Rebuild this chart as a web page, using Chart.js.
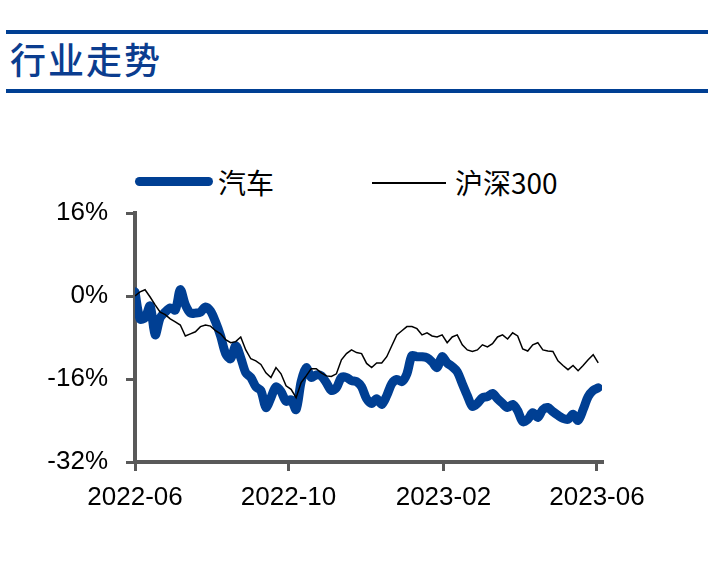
<!DOCTYPE html>
<html>
<head>
<meta charset="utf-8">
<script src="https://cdn.jsdelivr.net/npm/chart.js@4/dist/chart.umd.min.js"></script>
<style>
    body { margin: 0; background: #fff; }
    #wrap { position: relative; width: 711px; height: 563px; overflow: hidden; font-family: "Noto Sans CJK SC", sans-serif; }
    .rule { position: absolute; left: 6px; width: 702px; height: 4px; background: #003f93; }
    #title { position: absolute; left: 10px; top: 36px; font-size: 36px; line-height: 44px; color: #0b3d8f; letter-spacing: 2px; font-weight: 500; }
    .swatch { position: absolute; }
    .legend-text { position: absolute; top: 164px; font-size: 28px; line-height: 36px; color: #000; }
    canvas { position: absolute; left: 0; top: 0; }
</style>
</head>
<body>
<div id="wrap">
    <div class="rule" style="top:30px"></div>
    <div id="title">行业走势</div>
    <div class="rule" style="top:89px"></div>

    <!-- legend -->
    <div class="swatch" style="left:135px;top:177px;width:78px;height:9px;border-radius:5px;background:#003f93"></div>
    <div class="legend-text" style="left:218px">汽车</div>
    <div class="swatch" style="left:372px;top:182px;width:74px;height:2px;background:#000"></div>
    <div class="legend-text" style="left:455px">沪深300</div>

    <canvas id="chart" width="711" height="563"></canvas>
</div>
<script>
// one sample every 4 calendar days from 2022-06-01
const dayStep = 4;

// tick labels and where they fall (days since 2022-06-01)
const tickLabels = ["2022-06", "2022-10", "2023-02", "2023-06"];
const tickDays = [0, 122, 245, 367];

// y axis ticks (%)
const yTicks = [-32, -16, 0, 16];

// 汽车 relative return (%)
const autoSeries = [
    0.8, -4.4, -4.2, -1.9, -7.5, -4.2, -3.1, -2.3, -2.7, 1.2,
    -1.7, -3.3, -3.3, -3.1, -2.1, -2.9, -5.0, -7.7, -11.1, -12.1,
    -9.6, -11.9, -14.8, -15.7, -17.5, -18.2, -21.5, -19.6, -17.5, -18.4,
    -20.3, -20.0, -21.9, -16.5, -13.8, -15.7, -15.2, -15.4, -16.7, -18.2,
    -17.7, -15.7, -15.7, -16.3, -16.5, -17.5, -19.8, -20.7, -19.8, -20.9,
    -19.2, -16.9, -16.1, -16.5, -15.0, -11.5, -11.7, -11.7, -11.9, -12.7,
    -13.8, -11.7, -12.9, -13.6, -14.6, -16.9, -19.2, -21.3, -20.7, -19.6,
    -19.4, -18.8, -19.8, -20.7, -21.5, -20.9, -22.1, -24.2, -23.8, -22.5,
    -23.4, -21.9, -21.5, -22.3, -23.0, -23.6, -23.8, -22.8, -24.0, -21.9,
    -19.4, -18.2, -17.7
];

// 沪深300 relative return (%)
const hs300Series = [
    0.0, 0.8, 1.2, -0.2, -1.7, -3.1, -3.6, -4.4, -5.0, -5.6,
    -7.7, -7.3, -6.9, -5.9, -5.6, -5.8, -6.7, -7.3, -8.4, -9.0,
    -8.8, -7.9, -10.4, -12.1, -12.5, -13.2, -14.8, -15.7, -13.8, -15.0,
    -17.3, -18.0, -19.6, -16.7, -15.4, -14.0, -14.0, -14.8, -15.4, -15.5,
    -15.0, -12.3, -11.1, -10.4, -10.9, -11.1, -13.0, -13.8, -12.9, -12.9,
    -11.7, -9.6, -7.5, -6.7, -5.9, -5.9, -6.3, -7.5, -7.1, -7.7,
    -7.9, -7.5, -9.0, -7.9, -7.5, -9.4, -10.4, -10.7, -10.4, -9.4,
    -9.8, -9.2, -7.9, -7.5, -8.3, -7.1, -7.7, -10.2, -10.6, -9.4,
    -9.0, -10.4, -10.6, -10.7, -12.5, -13.4, -14.2, -13.4, -14.4, -13.4,
    -12.3, -11.3, -12.9
];

const toPoints = (arr) => arr.map((v, i) => ({ x: i * dayStep, y: v }));

const axisColor = "#595959";
const tickFont = { family: "Liberation Sans", size: 26 };

new Chart(document.getElementById("chart"), {
    type: "line",
    data: {
        datasets: [
            {
                label: "汽车",
                data: toPoints(autoSeries),
                borderColor: "#003f93",
                borderWidth: 9,
                borderCapStyle: "round",
                borderJoinStyle: "round",
                pointRadius: 0,
                tension: 0.3,
                order: 2
            },
            {
                label: "沪深300",
                data: toPoints(hs300Series),
                borderColor: "#000",
                borderWidth: 1.5,
                pointRadius: 0,
                tension: 0,
                order: 1
            }
        ]
    },
    options: {
        responsive: false,
        animation: false,
        layout: { padding: { top: 213, right: 109, bottom: 0, left: 0 } },
        plugins: { legend: { display: false }, tooltip: { enabled: false } },
        scales: {
            x: {
                type: "linear",
                min: 0,
                max: 371,
                afterFit: (axis) => { axis.height = 101; },
                afterBuildTicks: (axis) => { axis.ticks = tickDays.map((d) => ({ value: d })); },
                ticks: {
                    autoSkip: false,
                    maxRotation: 0,
                    padding: 11,
                    color: "#000",
                    font: tickFont,
                    callback: (value) => tickLabels[tickDays.indexOf(value)]
                },
                grid: { drawOnChartArea: false, drawTicks: true, tickLength: 9, lineWidth: 3, color: axisColor },
                border: { display: true, color: axisColor, width: 4 }
            },
            y: {
                min: -32,
                max: 16,
                afterFit: (axis) => { axis.width = 135; },
                afterBuildTicks: (axis) => { axis.ticks = yTicks.map((v) => ({ value: v })); },
                ticks: {
                    padding: 18,
                    color: "#000",
                    font: tickFont,
                    callback: (value) => value + "%"
                },
                grid: { drawOnChartArea: false, drawTicks: true, tickLength: 9, lineWidth: 3, color: axisColor },
                border: { display: true, color: axisColor, width: 4 }
            }
        }
    }
});
</script>
</body>
</html>
